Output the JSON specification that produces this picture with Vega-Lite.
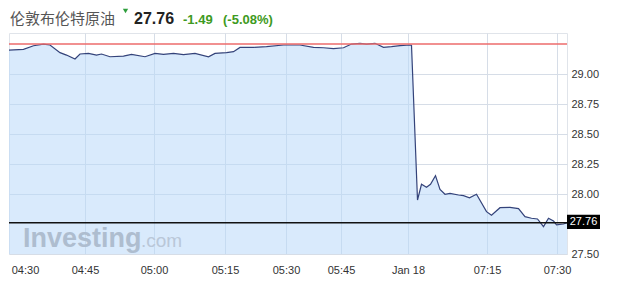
{
  "$schema": "https://vega.github.io/schema/vega-lite/v6.json",
  "width": 558,
  "height": 221,
  "autosize": "none",
  "padding": {"left": 9, "top": 33, "right": 64, "bottom": 31},
  "background": "white",
  "config": {"view": {"stroke": "#e0e4ea", "strokeWidth": 1}, "font": "Liberation Sans"},
  "datasets": {
    "prices": [
      {"n": 0, "p": 29.2}, {"n": 2.9, "p": 29.206}, {"n": 4.9, "p": 29.236}, {"n": 6.9, "p": 29.25},
      {"n": 8.2, "p": 29.242}, {"n": 10.2, "p": 29.178}, {"n": 11.5, "p": 29.158}, {"n": 13.2, "p": 29.125},
      {"n": 14.2, "p": 29.167}, {"n": 15.9, "p": 29.172}, {"n": 17.5, "p": 29.158}, {"n": 18.5, "p": 29.167},
      {"n": 20.2, "p": 29.144}, {"n": 22.9, "p": 29.15}, {"n": 24.5, "p": 29.164}, {"n": 27.2, "p": 29.144},
      {"n": 29.2, "p": 29.172}, {"n": 30.9, "p": 29.164}, {"n": 32.9, "p": 29.172}, {"n": 34.9, "p": 29.161},
      {"n": 37.2, "p": 29.172}, {"n": 39.9, "p": 29.144}, {"n": 41.2, "p": 29.172}, {"n": 43.5, "p": 29.178},
      {"n": 44.9, "p": 29.186}, {"n": 46.2, "p": 29.222}, {"n": 48.9, "p": 29.222}, {"n": 51.5, "p": 29.228},
      {"n": 54.9, "p": 29.242}, {"n": 58.2, "p": 29.242}, {"n": 60.9, "p": 29.222}, {"n": 62.9, "p": 29.219},
      {"n": 64.9, "p": 29.211}, {"n": 66.9, "p": 29.219}, {"n": 68.5, "p": 29.25}, {"n": 70.2, "p": 29.256},
      {"n": 71.5, "p": 29.25}, {"n": 73.2, "p": 29.256}, {"n": 74.9, "p": 29.222}, {"n": 76.5, "p": 29.228},
      {"n": 78.2, "p": 29.236}, {"n": 80.2, "p": 29.242}, {"n": 80.5, "p": 29.24}, {"n": 81.7, "p": 27.95},
      {"n": 82.5, "p": 28.081}, {"n": 83.5, "p": 28.056}, {"n": 84.3, "p": 28.081}, {"n": 85.3, "p": 28.153},
      {"n": 86.2, "p": 28.039}, {"n": 87.2, "p": 27.998}, {"n": 88.2, "p": 28.006}, {"n": 89.9, "p": 27.992},
      {"n": 90.9, "p": 27.986}, {"n": 92.1, "p": 27.969}, {"n": 93.5, "p": 27.998}, {"n": 95.5, "p": 27.853},
      {"n": 96.5, "p": 27.823}, {"n": 98.2, "p": 27.886}, {"n": 100.2, "p": 27.889}, {"n": 101.9, "p": 27.878},
      {"n": 103.2, "p": 27.811}, {"n": 104.5, "p": 27.798}, {"n": 105.7, "p": 27.792}, {"n": 106.9, "p": 27.728},
      {"n": 107.9, "p": 27.798}, {"n": 108.9, "p": 27.775}, {"n": 109.5, "p": 27.742}, {"n": 110.9, "p": 27.75},
      {"n": 111.6, "p": 27.76}
    ],
    "quote": [
      {"name": "伦敦布伦特原油", "last": 27.76, "lastText": "27.76", "change": "-1.49", "pct": "(-5.08%)", "prev": 29.25, "endN": 111.6}
    ],
    "wm": [{"a": "Investing", "b": ".com"}]
  },
  "layer": [
    {
      "data": {"name": "prices"},
      "mark": {"type": "area", "color": "#b9d9fa", "fillOpacity": 0.55, "line": {"color": "#34437a", "strokeWidth": 1.2}},
      "encoding": {
        "x": {
          "field": "n", "type": "quantitative",
          "scale": {"domain": [0, 111.6], "nice": false, "zero": false},
          "axis": {
            "title": null,
            "values": [3.2, 15.2, 29, 43.2, 55.4, 66.4, 79.8, 95.6, 109.6],
            "labelExpr": "datum.value < 5 ? '04:30' : datum.value < 20 ? '04:45' : datum.value < 35 ? '05:00' : datum.value < 50 ? '05:15' : datum.value < 60 ? '05:30' : datum.value < 70 ? '05:45' : datum.value < 85 ? 'Jan 18' : datum.value < 100 ? '07:15' : '07:30'",
            "ticks": false, "domain": false, "labelPadding": 10, "labelFontSize": 11, "labelColor": "#333333",
            "labelFlush": false, "labelOverlap": false,
            "gridColor": {"condition": {"test": "datum.value < 5", "value": "transparent"}, "value": "#d6dde7"}
          }
        },
        "y": {
          "field": "p", "type": "quantitative",
          "scale": {"domain": [27.5, 29.342], "nice": false, "zero": false},
          "axis": {
            "title": null, "orient": "right",
            "values": [27.5, 28, 28.25, 28.5, 28.75, 29],
            "format": ".2f", "ticks": false, "domain": false, "labelPadding": 4,
            "labelFontSize": 11, "labelColor": "#333333", "gridColor": "#d6dde7"
          }
        },
        "y2": {"datum": 27.5}
      }
    },
    {
      "data": {"name": "wm"},
      "mark": {"type": "text", "align": "left", "baseline": "alphabetic", "fontSize": 27, "fontWeight": "bold", "color": "#aebdcf", "font": "Liberation Sans"},
      "encoding": {"x": {"datum": 2.8, "type": "quantitative"}, "y": {"datum": 27.5625, "type": "quantitative"}, "text": {"field": "a"}}
    },
    {
      "data": {"name": "wm"},
      "mark": {"type": "text", "align": "left", "baseline": "alphabetic", "fontSize": 19, "color": "#b9c7d8", "font": "Liberation Sans"},
      "encoding": {"x": {"datum": 26.4, "type": "quantitative"}, "y": {"datum": 27.5625, "type": "quantitative"}, "text": {"field": "b"}}
    },
    {
      "data": {"name": "quote"},
      "mark": {"type": "rule", "color": "#ec6b6b", "strokeWidth": 1.5},
      "encoding": {"y": {"field": "prev", "type": "quantitative"}}
    },
    {
      "data": {"name": "quote"},
      "mark": {"type": "rule", "color": "#111111", "strokeWidth": 1.5},
      "encoding": {"y": {"field": "last", "type": "quantitative"}}
    },
    {
      "data": {"name": "quote"},
      "mark": {"type": "point", "shape": "M-1,-0.43H1V0.43H-1Z", "size": 1089, "filled": true, "color": "#000000", "opacity": 1, "xOffset": 16.5, "yOffset": -1},
      "encoding": {"x": {"field": "endN", "type": "quantitative"}, "y": {"field": "last", "type": "quantitative"}}
    },
    {
      "data": {"name": "quote"},
      "mark": {"type": "text", "align": "center", "baseline": "middle", "fontSize": 11, "color": "#ffffff", "dx": 16.5, "dy": -1},
      "encoding": {"x": {"field": "endN", "type": "quantitative"}, "y": {"field": "last", "type": "quantitative"}, "text": {"field": "lastText"}}
    },
    {
      "data": {"name": "quote"},
      "mark": {"type": "text", "align": "left", "baseline": "alphabetic", "fontSize": 15, "color": "#555555", "font": "Noto Sans CJK SC"},
      "encoding": {"x": {"datum": 0.2, "type": "quantitative"}, "y": {"datum": 29.421, "type": "quantitative"}, "text": {"field": "name"}}
    },
    {
      "data": {"name": "quote"},
      "mark": {"type": "point", "shape": "triangle-down", "size": 28, "filled": true, "color": "#2e9e3c", "opacity": 1},
      "encoding": {"x": {"datum": 23.3, "type": "quantitative"}, "y": {"datum": 29.525, "type": "quantitative"}}
    },
    {
      "data": {"name": "quote"},
      "mark": {"type": "text", "align": "left", "baseline": "alphabetic", "fontSize": 16, "fontWeight": "bold", "color": "#222222"},
      "encoding": {"x": {"datum": 25, "type": "quantitative"}, "y": {"datum": 29.421, "type": "quantitative"}, "text": {"field": "lastText"}}
    },
    {
      "data": {"name": "quote"},
      "mark": {"type": "text", "align": "left", "baseline": "alphabetic", "fontSize": 13, "fontWeight": "bold", "color": "#3e9a22"},
      "encoding": {"x": {"datum": 34.8, "type": "quantitative"}, "y": {"datum": 29.421, "type": "quantitative"}, "text": {"field": "change"}}
    },
    {
      "data": {"name": "quote"},
      "mark": {"type": "text", "align": "left", "baseline": "alphabetic", "fontSize": 13, "fontWeight": "bold", "color": "#3e9a22"},
      "encoding": {"x": {"datum": 42.8, "type": "quantitative"}, "y": {"datum": 29.421, "type": "quantitative"}, "text": {"field": "pct"}}
    }
  ]
}
